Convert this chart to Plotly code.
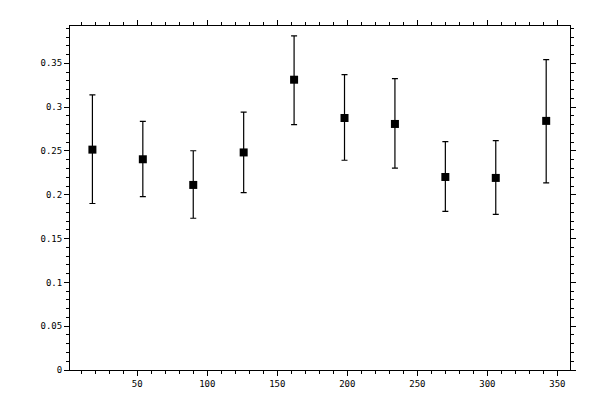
import plotly.graph_objects as go

# angle bins (deg) and measured values with asymmetric errors
angles = [18, 54, 90, 126, 162, 198, 234, 270, 306, 342]
values = [0.2515, 0.2405, 0.2112, 0.2483, 0.3313, 0.2876, 0.2808, 0.2203, 0.2192, 0.2843]
upper = [0.3141, 0.2838, 0.2502, 0.2943, 0.3814, 0.3370, 0.3325, 0.2607, 0.2618, 0.3542]
lower = [0.1900, 0.1979, 0.1732, 0.2024, 0.2801, 0.2394, 0.2304, 0.1811, 0.1777, 0.2136]

err_plus = [u - v for u, v in zip(upper, values)]
err_minus = [v - l for v, l in zip(values, lower)]

fig = go.Figure(go.Scatter(
    x=angles,
    y=values,
    mode='markers',
    marker=dict(symbol='square', size=8, color='black'),
    error_y=dict(type='data', symmetric=False, array=err_plus, arrayminus=err_minus,
                 color='black', thickness=1.2, width=3),
    showlegend=False,
))

axis_style = dict(
    showline=True, linecolor='black', linewidth=1, mirror='allticks',
    ticks='outside', ticklen=5, tickcolor='black', tickwidth=1,
    showgrid=False, zeroline=False,
    tickfont=dict(family='DejaVu Sans Mono', size=9, color='black'),
)

fig.update_xaxes(range=[2, 359], dtick=50, tick0=0,
                 minor=dict(dtick=10, ticks='outside', ticklen=3, tickcolor='black'),
                 **axis_style)
fig.update_yaxes(range=[0, 0.3926], dtick=0.05, tick0=0,
                 minor=dict(dtick=0.01, ticks='outside', ticklen=3, tickcolor='black'),
                 **axis_style)

# page body adds ~8px offset, so margins are trimmed on the top/left
fig.update_layout(
    width=600, height=400,
    margin=dict(l=62, r=38, t=12, b=38),
    plot_bgcolor='white', paper_bgcolor='white',
)

fig.write_html("out.html")
